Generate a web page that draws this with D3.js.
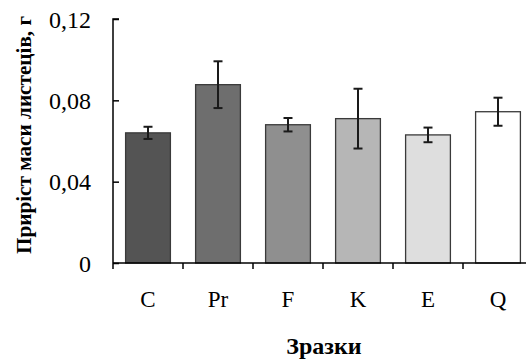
<!DOCTYPE html>
<html>
<head>
<meta charset="utf-8">
<script src="https://cdn.jsdelivr.net/npm/d3@7"></script>
<style>
  body { margin: 0; background: #fff; }
  svg text { font-family: "Liberation Serif", "Times New Roman", serif; fill: #000; }
</style>
</head>
<body>
<div id="chart"></div>
<script>
// samples and values
const samples = ["C", "Pr", "F", "K", "E", "Q"];
const gain = [0.064, 0.0877, 0.068, 0.071, 0.063, 0.0744];
const err = [0.003, 0.0115, 0.0033, 0.0147, 0.0036, 0.0069];
const fills = ["#545454", "#6e6e6e", "#8f8f8f", "#b6b6b6", "#dedede", "#ffffff"];
const yTicks = [0, 0.04, 0.08, 0.12];

const width = 526, height = 361;
const x0 = 113, y0 = 263, yTop = 19, band = 70;

const svg = d3.select("#chart").append("svg")
    .attr("width", width)
    .attr("height", height);

//scales
let xScale = d3.scaleBand()
    .domain(samples)
    .range([x0, x0 + band * samples.length])
    .paddingInner(0.36)
    .paddingOuter(0.18);

let yScale = d3.scaleLinear()
    .domain([0, 0.12])
    .range([y0, yTop]);

let data = samples.map((s, i) => ({ s: s, v: gain[i], e: err[i], c: fills[i] }));

//bars
svg.append("g").selectAll("rect")
    .data(data)
    .enter().append("rect")
    .attr("x", d => xScale(d.s))
    .attr("y", d => yScale(d.v))
    .attr("width", xScale.bandwidth())
    .attr("height", d => yScale(0) - yScale(d.v))
    .attr("fill", d => d.c)
    .attr("stroke", "#3a3a3a")
    .attr("stroke-width", 1.3);

//error bars
let eb = svg.append("g").selectAll("g")
    .data(data)
    .enter().append("g")
    .attr("stroke", "#1a1a1a")
    .attr("stroke-width", 2);

eb.append("line")
    .attr("x1", d => xScale(d.s) + xScale.bandwidth() / 2)
    .attr("x2", d => xScale(d.s) + xScale.bandwidth() / 2)
    .attr("y1", d => yScale(d.v + d.e))
    .attr("y2", d => yScale(d.v - d.e));
eb.selectAll(".cap")
    .data(d => [d.v + d.e, d.v - d.e].map(v => ({ s: d.s, v: v })))
    .enter().append("line")
    .attr("class", "cap")
    .attr("x1", d => xScale(d.s) + xScale.bandwidth() / 2 - 4.5)
    .attr("x2", d => xScale(d.s) + xScale.bandwidth() / 2 + 4.5)
    .attr("y1", d => yScale(d.v))
    .attr("y2", d => yScale(d.v));

//y axis, ticks pointing inward
let yAxis = d3.axisRight(yScale)
    .tickValues(yTicks)
    .tickSize(6)
    .tickFormat(d => d === 0 ? "0" : d3.format(".2f")(d).replace(".", ","));

let gy = svg.append("g")
    .attr("transform", "translate(" + x0 + ",0)")
    .call(yAxis);
gy.select(".domain").attr("stroke", "#000").attr("stroke-width", 1.5).attr("d", "M6," + yTop + "H0V" + y0);
gy.selectAll(".tick line").attr("stroke", "#000").attr("stroke-width", 1.5);
gy.selectAll(".tick text")
    .attr("x", -22)
    .attr("dy", "0.34em")
    .attr("text-anchor", "end")
    .style("font-size", "24px");

//x axis, tick marks on the band edges
let gx = svg.append("g")
    .attr("transform", "translate(0," + y0 + ")");
gx.append("line")
    .attr("x1", x0).attr("x2", x0 + band * samples.length)
    .attr("stroke", "#000").attr("stroke-width", 1.5);
gx.selectAll(".edge")
    .data(d3.range(samples.length + 1))
    .enter().append("line")
    .attr("class", "edge")
    .attr("x1", i => x0 + band * i).attr("x2", i => x0 + band * i)
    .attr("y1", 0).attr("y2", 6)
    .attr("stroke", "#000").attr("stroke-width", 1.5);
gx.selectAll(".lbl")
    .data(samples)
    .enter().append("text")
    .attr("class", "lbl")
    .attr("x", s => xScale(s) + xScale.bandwidth() / 2)
    .attr("y", 43.5)
    .attr("text-anchor", "middle")
    .style("font-size", "23px")
    .text(s => s);

//titles
svg.append("text")
    .attr("x", 324)
    .attr("y", 354)
    .attr("text-anchor", "middle")
    .style("font-size", "24px")
    .style("font-weight", "bold")
    .text("Зразки");

svg.append("text")
    .attr("transform", "translate(31,135) rotate(-90)")
    .attr("text-anchor", "middle")
    .style("font-size", "21.2px")
    .style("font-weight", "bold")
    .text("Приріст маси листецiв, г");
</script>
</body>
</html>
